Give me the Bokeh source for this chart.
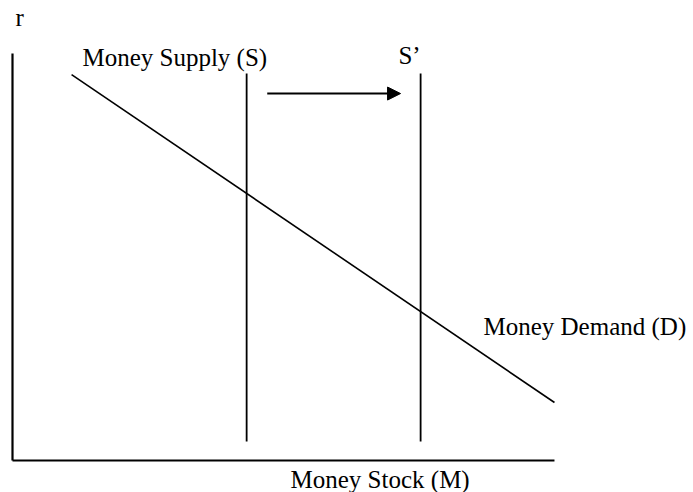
from bokeh.plotting import figure
from bokeh.models import Range1d, Label, Arrow, NormalHead
from bokeh.embed import file_html
from bokeh.resources import INLINE

# Conceptual units: money stock M (x) and interest rate r (y)
axis_M = [0, 100]          # horizontal axis extent
axis_r = [0, 75.1]         # vertical axis extent

demand_M = [10.9, 100.0]   # Money Demand (D)
demand_r = [71.2, 10.7]

supply_M = 43.2            # Money Supply (S)
supply2_M = 75.3           # S'
supply_r = [3.5, 71.4]

shift_M = [47.0, 71.6]     # arrow showing the shift of supply
shift_r = 67.7

labels = ["r", "Money Supply (S)", "S\u2019", "Money Demand (D)", "Money Stock (M)"]
label_pos = [(0.55, 81.8), (12.9, 74.4), (71.2, 74.7), (86.9, 24.7), (51.3, -3.5)]

W, H = 693, 492
p = figure(width=W, height=H, output_backend="svg", toolbar_location=None,
           x_range=Range1d(-2.214, 125.65), y_range=Range1d(-5.904, 84.87),
           min_border=0)
p.axis.visible = False
p.grid.visible = False
p.outline_line_color = None
p.background_fill_color = "white"
p.border_fill_color = "white"

# axes
p.line([axis_M[0], axis_M[1]], [0, 0], line_color="black", line_width=2.2)
p.line([0, 0], [axis_r[0], axis_r[1]], line_color="black", line_width=2.2)

# demand
p.line(demand_M, demand_r, line_color="black", line_width=1.6)

# supplies
p.line([supply_M, supply_M], supply_r, line_color="black", line_width=1.8)
p.line([supply2_M, supply2_M], supply_r, line_color="black", line_width=1.8)

# shift arrow
p.add_layout(Arrow(end=NormalHead(size=13, fill_color="black", line_color="black"),
                   x_start=shift_M[0], y_start=shift_r, x_end=shift_M[1], y_end=shift_r,
                   line_color="black", line_width=2))

for txt, (lx, ly) in zip(labels, label_pos):
    p.add_layout(Label(x=lx, y=ly, text=txt, text_font="Liberation Serif",
                       text_font_size="25px", text_color="black",
                       text_align="left", text_baseline="alphabetic"))

open("out.html", "w").write(file_html(p, INLINE))
